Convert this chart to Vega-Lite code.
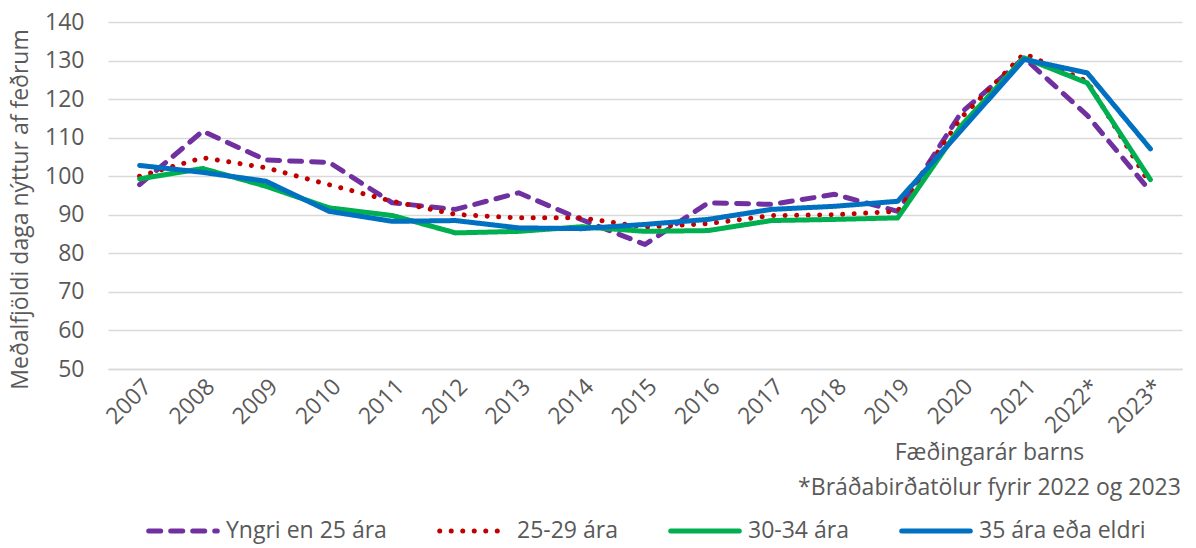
{
  "$schema": "https://vega.github.io/schema/vega-lite/v6.json",
  "autosize": "none",
  "width": 1074,
  "height": 347,
  "padding": {"left": 108, "top": 22, "right": 14, "bottom": 179},
  "background": "white",
  "config": {
    "font": "Open Sans",
    "view": {"stroke": null},
    "axis": {"labelColor": "#595959", "titleColor": "#595959", "labelFontSize": 23, "titleFontSize": 23, "titleFontWeight": "normal", "labelFont": "Open Sans", "titleFont": "Open Sans"}
  },
  "data": {"values": [
    {"ar": "2007", "hopur": "Yngri en 25 ára", "dagar": 97.8},
    {"ar": "2008", "hopur": "Yngri en 25 ára", "dagar": 111.7},
    {"ar": "2009", "hopur": "Yngri en 25 ára", "dagar": 104.2},
    {"ar": "2010", "hopur": "Yngri en 25 ára", "dagar": 103.6},
    {"ar": "2011", "hopur": "Yngri en 25 ára", "dagar": 93.1},
    {"ar": "2012", "hopur": "Yngri en 25 ára", "dagar": 91.4},
    {"ar": "2013", "hopur": "Yngri en 25 ára", "dagar": 95.7},
    {"ar": "2014", "hopur": "Yngri en 25 ára", "dagar": 88.7},
    {"ar": "2015", "hopur": "Yngri en 25 ára", "dagar": 82.3},
    {"ar": "2016", "hopur": "Yngri en 25 ára", "dagar": 93.1},
    {"ar": "2017", "hopur": "Yngri en 25 ára", "dagar": 92.7},
    {"ar": "2018", "hopur": "Yngri en 25 ára", "dagar": 95.3},
    {"ar": "2019", "hopur": "Yngri en 25 ára", "dagar": 90.9},
    {"ar": "2020", "hopur": "Yngri en 25 ára", "dagar": 116.4},
    {"ar": "2021", "hopur": "Yngri en 25 ára", "dagar": 130.7},
    {"ar": "2022*", "hopur": "Yngri en 25 ára", "dagar": 115.8},
    {"ar": "2023*", "hopur": "Yngri en 25 ára", "dagar": 96.1},
    {"ar": "2007", "hopur": "25-29 ára", "dagar": 100.0},
    {"ar": "2008", "hopur": "25-29 ára", "dagar": 104.8},
    {"ar": "2009", "hopur": "25-29 ára", "dagar": 102.2},
    {"ar": "2010", "hopur": "25-29 ára", "dagar": 97.8},
    {"ar": "2011", "hopur": "25-29 ára", "dagar": 93.5},
    {"ar": "2012", "hopur": "25-29 ára", "dagar": 90.1},
    {"ar": "2013", "hopur": "25-29 ára", "dagar": 89.2},
    {"ar": "2014", "hopur": "25-29 ára", "dagar": 89.2},
    {"ar": "2015", "hopur": "25-29 ára", "dagar": 86.8},
    {"ar": "2016", "hopur": "25-29 ára", "dagar": 87.7},
    {"ar": "2017", "hopur": "25-29 ára", "dagar": 89.8},
    {"ar": "2018", "hopur": "25-29 ára", "dagar": 90.0},
    {"ar": "2019", "hopur": "25-29 ára", "dagar": 90.9},
    {"ar": "2020", "hopur": "25-29 ára", "dagar": 115.1},
    {"ar": "2021", "hopur": "25-29 ára", "dagar": 131.8},
    {"ar": "2022*", "hopur": "25-29 ára", "dagar": 124.6},
    {"ar": "2023*", "hopur": "25-29 ára", "dagar": 97.8},
    {"ar": "2007", "hopur": "30-34 ára", "dagar": 99.3},
    {"ar": "2008", "hopur": "30-34 ára", "dagar": 102.0},
    {"ar": "2009", "hopur": "30-34 ára", "dagar": 97.4},
    {"ar": "2010", "hopur": "30-34 ára", "dagar": 91.8},
    {"ar": "2011", "hopur": "30-34 ára", "dagar": 89.8},
    {"ar": "2012", "hopur": "30-34 ára", "dagar": 85.3},
    {"ar": "2013", "hopur": "30-34 ára", "dagar": 85.7},
    {"ar": "2014", "hopur": "30-34 ára", "dagar": 86.9},
    {"ar": "2015", "hopur": "30-34 ára", "dagar": 85.7},
    {"ar": "2016", "hopur": "30-34 ára", "dagar": 85.9},
    {"ar": "2017", "hopur": "30-34 ára", "dagar": 88.5},
    {"ar": "2018", "hopur": "30-34 ára", "dagar": 88.8},
    {"ar": "2019", "hopur": "30-34 ára", "dagar": 89.2},
    {"ar": "2020", "hopur": "30-34 ára", "dagar": 113.0},
    {"ar": "2021", "hopur": "30-34 ára", "dagar": 130.7},
    {"ar": "2022*", "hopur": "30-34 ára", "dagar": 124.2},
    {"ar": "2023*", "hopur": "30-34 ára", "dagar": 99.1},
    {"ar": "2007", "hopur": "35 ára eða eldri", "dagar": 102.8},
    {"ar": "2008", "hopur": "35 ára eða eldri", "dagar": 101.0},
    {"ar": "2009", "hopur": "35 ára eða eldri", "dagar": 98.7},
    {"ar": "2010", "hopur": "35 ára eða eldri", "dagar": 90.9},
    {"ar": "2011", "hopur": "35 ára eða eldri", "dagar": 88.3},
    {"ar": "2012", "hopur": "35 ára eða eldri", "dagar": 88.5},
    {"ar": "2013", "hopur": "35 ára eða eldri", "dagar": 86.6},
    {"ar": "2014", "hopur": "35 ára eða eldri", "dagar": 86.4},
    {"ar": "2015", "hopur": "35 ára eða eldri", "dagar": 87.5},
    {"ar": "2016", "hopur": "35 ára eða eldri", "dagar": 88.8},
    {"ar": "2017", "hopur": "35 ára eða eldri", "dagar": 91.4},
    {"ar": "2018", "hopur": "35 ára eða eldri", "dagar": 92.2},
    {"ar": "2019", "hopur": "35 ára eða eldri", "dagar": 93.5},
    {"ar": "2020", "hopur": "35 ára eða eldri", "dagar": 111.8},
    {"ar": "2021", "hopur": "35 ára eða eldri", "dagar": 130.3},
    {"ar": "2022*", "hopur": "35 ára eða eldri", "dagar": 126.8},
    {"ar": "2023*", "hopur": "35 ára eða eldri", "dagar": 107.1}
  ]},
  "mark": {"type": "line", "strokeWidth": 5, "strokeCap": "round", "strokeJoin": "round"},
  "encoding": {
    "x": {
      "field": "ar", "type": "ordinal", "sort": null,
      "scale": {"type": "point", "padding": 0.5},
      "axis": {
        "title": ["Fæðingarár barns", "*Bráðabirðatölur fyrir 2022 og 2023"],
        "titleAlign": "center", "titleAnchor": "start", "titleX": 881, "titleY": 72, "titleBaseline": "top", "titleLineHeight": 35,
        "labelAngle": -45, "labelPadding": 6, "ticks": false,
        "domainColor": "#d9d9d9", "domainWidth": 1.5, "grid": false
      }
    },
    "y": {
      "field": "dagar", "type": "quantitative",
      "scale": {"domain": [50, 140], "nice": false, "zero": false},
      "axis": {
        "title": "Meðalfjöldi daga nýttur af feðrum",
        "titleX": -88, "titleY": 187, "titleBaseline": "middle", "titleAlign": "center",
        "values": [50, 60, 70, 80, 90, 100, 110, 120, 130, 140],
        "ticks": false, "domain": false, "labelPadding": 24,
        "gridColor": "#d9d9d9", "gridWidth": 1.5
      }
    },
    "color": {
      "field": "hopur", "type": "nominal", "sort": null,
      "scale": {"domain": ["Yngri en 25 ára", "25-29 ára", "30-34 ára", "35 ára eða eldri"], "range": ["#7030A0", "#C00000", "#00B050", "#0070C0"]},
      "legend": {
        "title": null, "orient": "none", "direction": "horizontal", "columns": 4,
        "legendX": 38, "legendY": 472, "padding": 0,
        "symbolType": "stroke", "symbolSize": 4700, "symbolStrokeWidth": 5,
        "labelFontSize": 23, "labelColor": "#595959", "labelFont": "Open Sans", "labelOffset": 6, "labelLimit": 400, "columnPadding": 42,
        "encode": {"symbols": {"update": {"strokeCap": {"value": "round"}}}}
      }
    },
    "strokeDash": {
      "field": "hopur", "type": "nominal", "sort": null,
      "scale": {"domain": ["Yngri en 25 ára", "25-29 ára", "30-34 ára", "35 ára eða eldri"], "range": [[12, 10], [0.01, 11.5], [1, 0], [1, 0]]},
      "legend": null
    }
  }
}
